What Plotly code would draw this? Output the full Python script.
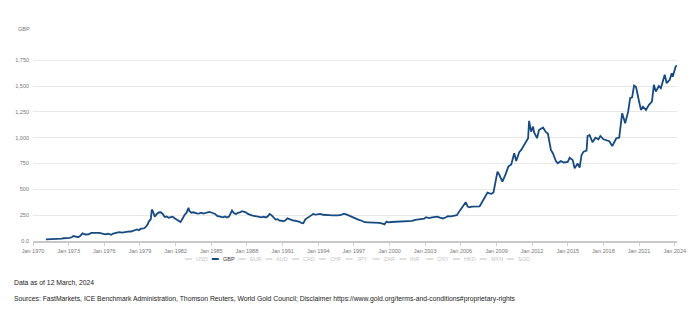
import plotly.graph_objects as go

# ---- data ----
dates = [
    "1971-02","1971-06","1971-09","1971-12","1972-03","1972-06","1972-08","1972-11",
    "1973-02","1973-04","1973-06","1973-09","1973-11","1974-01","1974-03","1974-06",
    "1974-09","1974-12","1975-02","1975-05","1975-08","1975-11","1976-02","1976-05",
    "1976-08","1976-10","1977-01","1977-04","1977-07","1977-10","1978-01","1978-04",
    "1978-07","1978-10","1978-12","1979-02","1979-05","1979-07","1979-09","1979-10",
    "1979-12","1980-01","1980-02","1980-03","1980-04","1980-06","1980-08","1980-10",
    "1980-12","1981-02","1981-04","1981-06","1981-08","1981-10","1981-12","1982-02",
    "1982-04","1982-06","1982-08","1982-10","1982-12","1983-02","1983-03","1983-05",
    "1983-07","1983-09","1983-11","1984-01","1984-03","1984-05","1984-07","1984-09",
    "1984-11","1985-01","1985-03","1985-05","1985-07","1985-09","1985-11","1986-01",
    "1986-03","1986-05","1986-07","1986-09","1986-10","1986-12","1987-02","1987-04",
    "1987-06","1987-08","1987-10","1987-12","1988-02","1988-04","1988-06","1988-08",
    "1988-10","1988-12","1989-02","1989-04","1989-06","1989-08","1989-10","1989-12",
    "1990-02","1990-04","1990-06","1990-08","1990-10","1990-12","1991-02","1991-04",
    "1991-06","1991-08","1991-10","1991-12","1992-02","1992-04","1992-06","1992-08",
    "1992-10","1992-12","1993-02","1993-04","1993-06","1993-08","1993-10","1993-12",
    "1994-03","1994-06","1994-09","1994-12","1995-03","1995-06","1995-09","1995-12",
    "1996-03","1996-06","1996-09","1996-12","1997-03","1997-06","1997-09","1997-12",
    "1998-03","1998-06","1998-09","1998-12","1999-03","1999-06","1999-08","1999-10",
    "1999-12","2000-03","2000-06","2000-09","2000-12","2001-03","2001-06","2001-09",
    "2001-12","2002-03","2002-06","2002-09","2002-12","2003-02","2003-05","2003-08",
    "2003-11","2004-01","2004-04","2004-07","2004-10","2004-12","2005-03","2005-06",
    "2005-09","2005-12","2006-02","2006-04","2006-06","2006-08","2006-10","2006-12",
    "2007-03","2007-06","2007-08","2007-10","2007-12","2008-02","2008-04","2008-06",
    "2008-08","2008-10","2008-12","2009-02","2009-04","2009-07","2009-10","2010-01",
    "2010-04","2010-07","2010-09","2010-12","2011-02","2011-05","2011-07","2011-09",
    "2011-10","2011-12","2012-02","2012-03","2012-06","2012-08","2012-12","2013-03",
    "2013-05","2013-08","2013-10","2014-01","2014-03","2014-06","2014-09","2015-01",
    "2015-03","2015-06","2015-08","2015-11","2016-01","2016-03","2016-05","2016-08",
    "2016-09","2016-11","2017-02","2017-05","2017-08","2017-10","2018-01","2018-04",
    "2018-07","2018-10","2019-02","2019-05","2019-08","2019-11","2020-02","2020-04",
    "2020-06","2020-08","2020-10","2021-01","2021-03","2021-05","2021-08","2021-11",
    "2022-02","2022-04","2022-06","2022-09","2022-11","2023-03","2023-05","2023-08",
    "2023-10","2023-11","2024-02","2024-03-12",
]
gbp = [
    15.8,16.2,16.9,17.2,19.0,22.5,26.5,25.8,
    30.0,36.5,48.0,41.0,38.5,52.0,74.0,63.0,
    65.0,78.0,76.0,79.0,78.0,70.0,64.0,70.0,
    60.0,72.0,78.0,86.0,82.0,89.0,91.0,92.0,
    100.0,112.0,104.0,119.0,122.0,136.0,165.0,188.0,
    212.0,305.0,290.0,252.0,236.0,262.0,276.0,278.0,
    262.0,232.0,238.0,226.0,232.0,236.0,220.0,208.0,
    195.0,183.0,215.0,252.0,272.0,322.0,290.0,274.0,
    278.0,270.0,265.0,268.0,274.0,266.0,270.0,276.0,
    281.0,276.0,270.0,262.0,242.0,238.0,232.0,229.0,
    238.0,228.0,236.0,282.0,295.0,268.0,262.0,272.0,
    276.0,288.0,284.0,278.0,262.0,252.0,248.0,244.0,
    240.0,236.0,231.0,229.0,236.0,228.0,238.0,262.0,
    248.0,228.0,208.0,212.0,197.0,196.0,190.0,200.0,
    220.0,212.0,202.0,198.0,196.0,193.0,186.0,176.0,
    172.0,210.0,222.0,228.0,248.0,262.0,256.0,258.0,
    262.0,254.0,255.0,250.0,248.0,246.0,249.0,252.0,
    265.0,256.0,242.0,226.0,216.0,204.0,196.0,182.0,
    181.0,180.0,178.0,176.0,176.0,168.0,161.0,188.0,
    180.0,184.0,186.0,188.0,186.0,185.0,192.0,196.0,
    194.0,204.0,210.0,214.0,216.0,230.0,222.0,228.0,
    232.0,236.0,226.0,218.0,230.0,240.0,238.0,242.0,
    250.0,294.0,318.0,345.0,376.0,334.0,326.0,332.0,
    334.0,330.0,335.0,368.0,404.0,440.0,468.0,462.0,
    458.0,470.0,560.0,672.0,640.0,575.0,640.0,720.0,
    740.0,850.0,775.0,860.0,882.0,930.0,960.0,995.0,
    1163.0,1059.0,1107.0,1053.0,995.0,1075.0,1098.0,1053.0,
    1040.0,882.0,850.0,775.0,752.0,775.0,760.0,765.0,
    807.0,785.0,704.0,750.0,710.0,833.0,865.0,875.0,
    1017.0,1027.0,956.0,1000.0,985.0,1017.0,985.0,975.0,
    966.0,920.0,995.0,1000.0,1237.0,1140.0,1252.0,1382.0,
    1390.0,1504.0,1490.0,1350.0,1269.0,1300.0,1269.0,1318.0,
    1350.0,1512.0,1447.0,1500.0,1480.0,1609.0,1528.0,1560.0,
    1625.0,1590.0,1689.0,1700.0,
]

y_tick_vals = [0, 250, 500, 750, 1000, 1250, 1500, 1750, 2000]
y_tick_text = ["0.0", "250", "500", "750", "1,000", "1,250", "1,500", "1,750", ""]

currencies = ["USD", "GBP", "EUR", "AUD", "CAD", "CHF", "JPY", "ZAR",
              "INR", "CNY", "HKD", "MXN", "SGD"]
active_currency = "GBP"

note_text = "Data as of 12 March, 2024"
source_text = ("Sources: FastMarkets, ICE Benchmark Administration, Thomson Reuters, "
               "World Gold Council; Disclaimer https://www.gold.org/terms-and-conditions#proprietary-rights")

# ---- layout geometry ----
W, H = 700, 323
L, R, T, B = 33, 23, 34, 82
PW = W - L - R
PH = H - T - B

def px(x):
    return (x - L) / PW

def py(y):
    return (H - B - y) / PH

LINE_COLOR = "#164a80"
FONT = "Liberation Sans, Arial, sans-serif"

fig = go.Figure()
fig.add_trace(go.Scatter(
    x=dates, y=gbp, mode="lines", name=active_currency,
    line=dict(color=LINE_COLOR, width=1.8), showlegend=False,
))

annotations = []
shapes = []

# manual legend
leg_x0 = 185
leg_step = 26.8
leg_y = 259
for i, c in enumerate(currencies):
    x0 = leg_x0 + i * leg_step
    active = (c == active_currency)
    col = LINE_COLOR if active else "#d4d4d4"
    shapes.append(dict(type="line", xref="paper", yref="paper",
                       x0=px(x0), x1=px(x0 + 7), y0=py(leg_y), y1=py(leg_y),
                       line=dict(color=col, width=2 if active else 1.5)))
    annotations.append(dict(xref="paper", yref="paper", x=px(x0 + 9), y=py(leg_y),
                            text=c, showarrow=False, xanchor="left", yanchor="middle",
                            font=dict(size=5.5, color="#333" if active else "#c4c4c4",
                                      family=FONT)))

# y-axis unit label
annotations.append(dict(xref="paper", yref="paper", x=px(32), y=py(29), text="GBP",
                        showarrow=False, xanchor="right", yanchor="middle",
                        font=dict(size=5.5, color="#777", family=FONT)))

# footer notes
annotations.append(dict(xref="paper", yref="paper", x=px(12), y=py(282), text=note_text,
                        showarrow=False, xanchor="left", yanchor="middle",
                        font=dict(size=6.8, color="#222", family=FONT)))
annotations.append(dict(xref="paper", yref="paper", x=px(12), y=py(298.5), text=source_text,
                        showarrow=False, xanchor="left", yanchor="middle",
                        font=dict(size=6.8, color="#222", family=FONT)))

fig.update_layout(
    width=W, height=H,
    margin=dict(l=L, r=R, t=T, b=B, pad=0),
    paper_bgcolor="white", plot_bgcolor="white",
    font=dict(family=FONT, size=5.5, color="#777"),
    annotations=annotations, shapes=shapes,
    showlegend=False,
)
fig.update_xaxes(
    type="date", range=["1970-01-01", "2024-03-12"],
    tick0="1970-01-01", dtick="M36", tickformat="%b %Y",
    showgrid=False, zeroline=False,
    showline=True, linecolor="#c8c8c8", linewidth=2,
    ticks="outside", ticklen=3, tickcolor="#d0d0d0", tickwidth=1,
    tickfont=dict(size=5.5, color="#777", family=FONT),
)
fig.update_yaxes(
    range=[0, 2004], tickvals=y_tick_vals, ticktext=y_tick_text,
    showgrid=True, gridcolor="#e8e8e8", gridwidth=1,
    zeroline=False, showline=False, ticks="", ticklabelstandoff=3,
    tickfont=dict(size=5.5, color="#777", family=FONT),
)

fig.write_html("out.html")
